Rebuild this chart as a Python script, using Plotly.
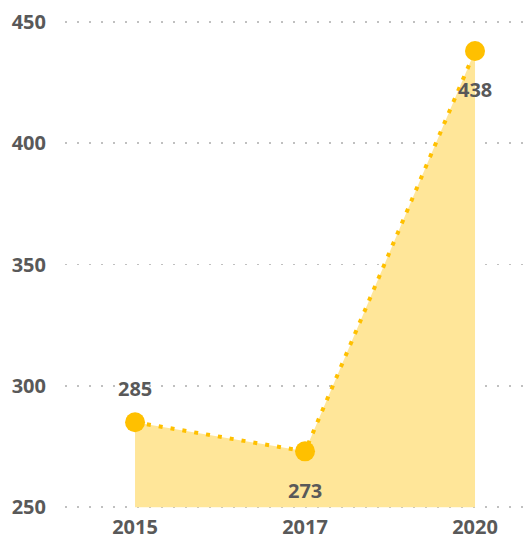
import plotly.graph_objects as go

years = ["2015", "2017", "2020"]
values = [285, 273, 438]
label_pos = ["above", "below", "below"]
y_ticks = [250, 300, 350, 400, 450]
baseline = y_ticks[0]

GOLD = "#FFC000"
FILL = "#FFE699"
TXT = "#595959"
FONT = "Open Sans"

fig = go.Figure()
fig.add_trace(go.Scatter(
    x=years, y=[baseline] * len(years), mode="lines",
    line=dict(width=0, color="rgba(0,0,0,0)"),
    hoverinfo="skip", showlegend=False,
))
fig.add_trace(go.Scatter(
    x=years, y=values, mode="lines+markers",
    line=dict(color=GOLD, width=4, dash="4px,8px"),
    marker=dict(color=GOLD, size=20),
    fill="tonexty", fillcolor=FILL,
    hoverinfo="skip", showlegend=False,
))

for i, (y, p) in enumerate(zip(values, label_pos)):
    fig.add_annotation(
        x=i, y=y, xref="x", yref="y", text=f"<b>{y}</b>", showarrow=False,
        yshift=34 if p == "above" else -39,
        font=dict(family=FONT, size=20, color=TXT),
    )

fig.update_layout(
    width=532, height=540,
    margin=dict(l=65, r=7, t=17, b=28, autoexpand=False),
    paper_bgcolor="white", plot_bgcolor="white",
    font=dict(family=FONT, size=20, color=TXT),
)
fig.update_xaxes(
    type="category", range=[-0.412, 2.294], automargin=False,
    showgrid=False, showline=False, zeroline=False, ticks="",
    tickfont=dict(family=FONT, size=20, color=TXT, weight="bold"),
    ticklabelstandoff=1, ticklabeloverflow="allow",
)
fig.update_yaxes(
    range=[248, 452], tickvals=y_ticks, automargin=False,
    showgrid=True, gridcolor="#c0c0c0", gridwidth=1.5, griddash="2px,10px",
    showline=False, zeroline=False, ticks="",
    tickfont=dict(family=FONT, size=20, color=TXT, weight="bold"),
    ticklabelstandoff=18, ticklabeloverflow="allow",
)

fig.write_html(
    "out.html",
    config={"displayModeBar": False, "staticPlot": True},
    post_script="document.body.style.margin='0';document.body.style.overflow='hidden';",
)
